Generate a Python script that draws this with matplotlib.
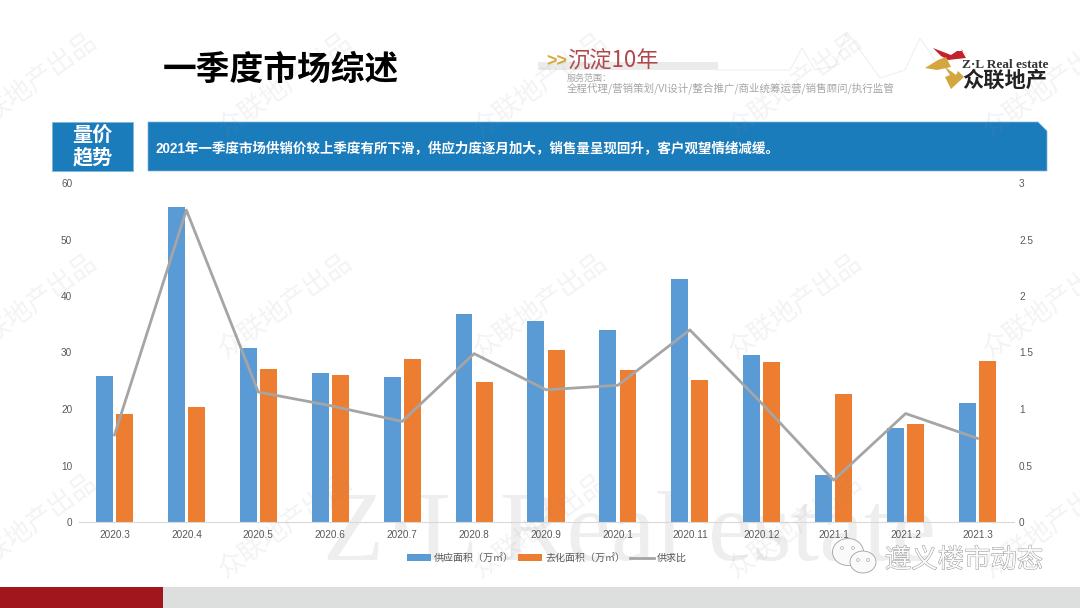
import matplotlib
matplotlib.use('Agg')
import matplotlib.pyplot as plt
import matplotlib.patheffects as pe
from matplotlib.patches import Rectangle, Polygon, Ellipse
import numpy as np

plt.rcParams['font.family'] = ['Liberation Sans', 'Noto Sans CJK SC', 'DejaVu Sans']

categories = ['2020.3', '2020.4', '2020.5', '2020.6', '2020.7', '2020.8', '2020.9',
              '2020.1', '2020.11', '2020.12', '2021.1', '2021.2', '2021.3']
supply = [25.8, 55.8, 30.8, 26.4, 25.7, 36.8, 35.5, 33.9, 43.0, 29.6, 8.3, 16.7, 21.0]
sold = [19.2, 20.4, 27.0, 26.0, 28.9, 24.8, 30.4, 26.9, 25.2, 28.4, 22.7, 17.4, 28.5]
ratio = [0.77, 2.76, 1.15, 1.03, 0.89, 1.49, 1.17, 1.21, 1.70, 1.05, 0.37, 0.96, 0.74]
left_ticks = [0, 10, 20, 30, 40, 50, 60]
right_ticks = [0, 0.5, 1, 1.5, 2, 2.5, 3]
right_labels = ['0', '0.5', '1', '1.5', '2', '2.5', '3']
title = '一季度市场综述'
tag = '量价\n趋势'
banner = '2021年一季度市场供销价较上季度有所下滑，供应力度逐月加大，销售量呈现回升，客户观望情绪减缓。'

W, H = 1080, 608
CJK = ['Noto Sans CJK SC']
fig = plt.figure(figsize=(W / 100, H / 100), dpi=100, facecolor='white')

# background / decoration layer in pixel coordinates
bg = fig.add_axes([0, 0, 1, 1], zorder=0)
bg.set_xlim(0, W); bg.set_ylim(H, 0); bg.axis('off')
BLUE = '#1B7CBC'
bg.add_patch(Rectangle((52, 122), 81, 49, fc=BLUE, ec='#7FB6DC', lw=0.6))
bg.add_patch(Polygon([(148, 122), (1038, 122), (1047, 131), (1047, 171), (148, 171)],
                     closed=True, fc=BLUE, ec='#7FB6DC', lw=0.5))
bg.text(92.5, 146, tag, color='white', fontsize=14.5, fontweight='bold', ha='center',
        va='center', linespacing=1.05, family=CJK)
bg.text(156, 148, banner, color='white', fontsize=9.75, fontweight='bold', ha='left',
        va='center', family=['Liberation Sans', 'Noto Sans CJK SC'])
bg.text(281, 69, title, color='black', fontsize=24.3, fontweight='bold', ha='center',
        va='center', family=CJK)

# header slogan
bg.plot([718, 790, 802, 815, 835, 847, 880, 905, 920, 935], [70, 70, 48, 70, 66, 32, 78, 70, 38, 60],
        color='#EEEEEE', lw=0.7)
bg.add_patch(Rectangle((538, 62), 180, 8, fc='#EBEBEB', ec='none'))
bg.text(557, 62, '>>', color='#D9A93F', fontsize=13, fontweight='bold', ha='center', va='center')
bg.text(567, 61, '沉淀10年', color='#B0474A', fontsize=16, ha='left', va='center', family=CJK)
bg.text(567, 78, '服务范围：', color='#A6A6A6', fontsize=6.5, ha='left', va='center', family=CJK)
bg.text(567, 88, '全程代理/营销策划/VI设计/整合推广/商业统筹运营/销售顾问/执行监管',
        color='#A6A6A6', fontsize=7.55, ha='left', va='center', family=CJK)

# logo
bg.add_patch(Polygon([(933, 48), (951, 55), (957, 51), (963, 51), (961, 49), (966, 58),
                      (948, 60), (941, 56)], closed=True, fc='#C2222B', ec='none'))
bg.add_patch(Polygon([(925, 68), (938, 60), (946, 57), (951, 67), (937, 70)], closed=True,
                     fc='#D4A63F', ec='none'))
bg.add_patch(Polygon([(944, 66), (956, 75), (958, 71), (964, 77), (951, 89), (945, 77), (950, 75)],
                     closed=True, fc='#D4A63F', ec='none'))
bg.text(1005, 65, 'Z·L Real estate', color='#333333', fontsize=9.5, fontweight='bold',
        ha='center', va='center', family=['Liberation Serif'])
bg.text(1005, 80, '众联地产', color='#222222', fontsize=15.3, fontweight='bold', ha='center',
        va='center', family=CJK)

# big watermark
bg.text(323, 560, 'Z·L Real estate', color='#EEEEEE', fontsize=72, ha='left', va='baseline',
        family=['Liberation Serif'])

# footer
bg.add_patch(Rectangle((163, 587), W - 163, 21, fc='#DDDEDE', ec='none'))
bg.add_patch(Rectangle((0, 587), 163, 21, fc='#A0161C', ec='none'))

# chart
L, R, T, B = 78.5, 1013.5, 183, 522
ax = fig.add_axes([L / W, 1 - B / H, (R - L) / W, (B - T) / H], zorder=2)
ax.patch.set_alpha(0)
x = np.arange(len(categories))
w = 0.235
off = 0.14
b1 = ax.bar(x - off, supply, w, color='#5B9BD5', label='供应面积（万㎡）')
b2 = ax.bar(x + off, sold, w, color='#ED7D31', label='去化面积（万㎡）')
ax.set_xlim(-0.5, len(categories) - 0.5)
ax.set_ylim(0, 60)
ax.set_yticks(left_ticks)
ax.set_xticks(x)
ax.set_xticklabels(categories)
ax.tick_params(axis='x', length=0, labelsize=7.2, labelcolor='#595959', pad=6)
ax.tick_params(axis='y', length=0, labelsize=7.2, labelcolor='#595959', pad=4.5)
for s in ['top', 'left', 'right']:
    ax.spines[s].set_visible(False)
ax.spines['bottom'].set_color('#D9D9D9')
ax.spines['bottom'].set_linewidth(0.8)

ax2 = ax.twinx()
ax2.patch.set_alpha(0)
l1, = ax2.plot(x, ratio, color='#A5A5A5', lw=2.0, label='供求比', solid_joinstyle='round')
ax2.set_ylim(0, 3)
ax2.set_yticks(right_ticks)
ax2.set_yticklabels(right_labels)
ax2.tick_params(axis='y', length=0, labelsize=7.2, labelcolor='#595959', pad=4)
for s in ax2.spines.values():
    s.set_visible(False)

fig.legend(handles=[b1, b2, l1], loc='center', bbox_to_anchor=(547 / W, 1 - 558 / H),
           ncol=3, frameon=False, fontsize=7.2, labelcolor='#595959', columnspacing=0.4,
           handlelength=2.4, handletextpad=0.35, handleheight=0.7)

# overlay watermarks
ov = fig.add_axes([0, 0, 1, 1], zorder=5)
ov.set_xlim(0, W); ov.set_ylim(H, 0); ov.axis('off'); ov.patch.set_alpha(0)
for cy in [84, 305, 525]:
    for cx in [30, 285, 540, 795, 1050]:
        ov.text(cx, cy, '众联地产出品', color='#8C8C8C', alpha=0.10, fontsize=19, rotation=36,
                ha='center', va='center', rotation_mode='anchor', family=CJK)

# account badge
for (ex, ey, ew, eh) in [(848, 552, 31, 27), (863, 562, 26, 22)]:
    ov.add_patch(Ellipse((ex, ey), ew, eh, fc='#FAFAFA', ec='#A0A0A0', lw=0.6))
for (tx, ty) in [(842, 548), (853, 548), (858, 560), (868, 560)]:
    ov.add_patch(Ellipse((tx, ty), 3, 3, fc='#F5F5F5', ec='#A0A0A0', lw=0.4))
ov.text(964, 560, '遵义楼市动态', color='#FAFAFA', fontsize=19, ha='center', va='center', family=CJK,
        path_effects=[pe.withStroke(linewidth=0.6, foreground='#8A8A8A')])

fig.savefig('out.png', dpi=100, facecolor='white')
